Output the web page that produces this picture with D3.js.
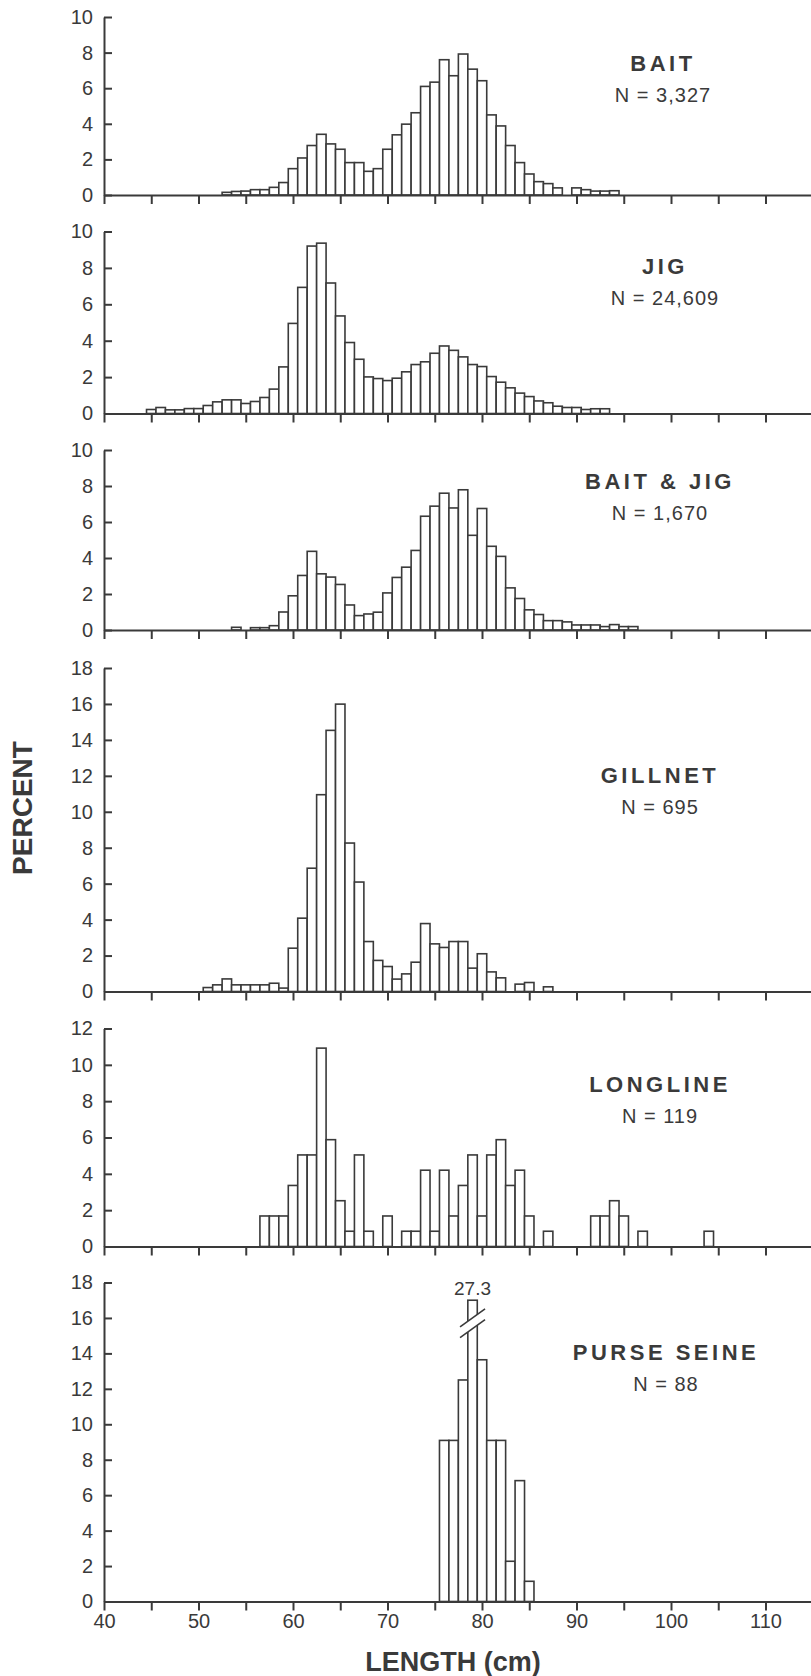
<!DOCTYPE html>
<html><head><meta charset="utf-8">
<script src="https://cdn.jsdelivr.net/npm/d3@7"></script>
<style>
html,body{margin:0;padding:0;background:#fff;}
svg{display:block;}
</style></head><body>
<svg id="chart" width="811" height="1676"></svg>
<script>
// ---------------- DATA ----------------
const gearNames = ["BAIT", "JIG", "BAIT & JIG", "GILLNET", "LONGLINE", "PURSE SEINE"];
const sampleLabels = ["N = 3,327", "N = 24,609", "N = 1,670", "N = 695", "N = 119", "N = 88"];

// percent frequency by 1-cm length class; first value belongs to the start length
const baitStart = 53;
const baitPct = [0.15, 0.2, 0.22, 0.3, 0.3, 0.43, 0.7, 1.48, 2.08, 2.78, 3.41, 2.87, 2.57, 1.82, 1.82, 1.33, 1.48,
  2.57, 3.38, 3.98, 4.62, 6.1, 6.34, 7.6, 6.7, 7.92, 7.07, 6.42, 4.5, 3.88, 2.78, 1.82, 1.18, 0.75, 0.64, 0.4, 0,
  0.4, 0.3, 0.22, 0.22, 0.24];

const jigStart = 45;
const jigPct = [0.22, 0.33, 0.2, 0.2, 0.27, 0.27, 0.44, 0.64, 0.75, 0.75, 0.55, 0.66, 0.88, 1.34, 2.56, 4.95, 6.93,
  9.2, 9.36, 7.17, 5.36, 3.9, 2.98, 2.01, 1.92, 1.81, 1.94, 2.29, 2.69, 2.84, 3.31, 3.71, 3.47, 3.11, 2.69, 2.58,
  2.03, 1.72, 1.41, 1.12, 0.93, 0.69, 0.59, 0.4, 0.33, 0.33, 0.22, 0.26, 0.26];

const baitJigStart = 54;
const baitJigPct = [0.15, 0, 0.13, 0.13, 0.24, 1.0, 1.9, 3.03, 4.37, 3.12, 2.94, 2.53, 1.39, 0.8, 0.89, 0.99, 2.06,
  2.92, 3.49, 4.42, 6.32, 6.88, 7.6, 6.78, 7.79, 5.26, 6.75, 4.65, 4.09, 2.34, 1.75, 1.12, 0.86, 0.52, 0.52, 0.45,
  0.28, 0.28, 0.28, 0.19, 0.3, 0.19, 0.19];

const gillnetStart = 51;
const gillnetPct = [0.22, 0.37, 0.7, 0.37, 0.37, 0.37, 0.37, 0.46, 0.19, 2.41, 4.08, 6.86, 10.95, 14.53, 15.99, 8.26,
  6.09, 2.78, 1.73, 1.39, 0.69, 0.98, 1.63, 3.78, 2.65, 2.45, 2.78, 2.78, 1.3, 2.1, 1.09, 0.76, 0, 0.41, 0.5, 0, 0.26];

const longlineStart = 57;
const longlinePct = [1.68, 1.68, 1.68, 3.36, 5.04, 5.04, 10.92, 5.88, 2.52, 0.84, 5.04, 0.84, 0, 1.68, 0, 0.84, 0.84,
  4.2, 0.84, 4.2, 1.68, 3.36, 5.04, 1.68, 5.04, 5.88, 3.36, 4.2, 1.68, 0, 0.84, 0, 0, 0, 0, 1.68, 1.68, 2.52, 1.68,
  0, 0.84, 0, 0, 0, 0, 0, 0, 0.84];

const purseStart = 76;
const pursePct = [9.09, 9.09, 12.5, 27.3, 13.64, 9.09, 9.09, 2.27, 6.82, 1.14];
const purseBreakLabel = "27.3";
const purseAxisCap = 17;   // bar drawn broken at this value

const yMaxes = [10, 10, 10, 18, 12, 18];
const yTicksTen = [0, 2, 4, 6, 8, 10];
const yTicksEighteen = [0, 2, 4, 6, 8, 10, 12, 14, 16, 18];
const yTicksTwelve = [0, 2, 4, 6, 8, 10, 12];
const xTickValues = [40, 45, 50, 55, 60, 65, 70, 75, 80, 85, 90, 95, 100, 105, 110, 115];
const xTickLabels = [40, 50, 60, 70, 80, 90, 100, 110];
const xTitle = "LENGTH (cm)";
const yTitle = "PERCENT";

const seriesStarts = [baitStart, jigStart, baitJigStart, gillnetStart, longlineStart, purseStart];
const seriesValues = [baitPct, jigPct, baitJigPct, gillnetPct, longlinePct, pursePct];
const seriesTicks = [yTicksTen, yTicksTen, yTicksTen, yTicksEighteen, yTicksTwelve, yTicksEighteen];

// ---------------- LAYOUT ----------------
const W = 811, H = 1676;
const INK = "#3a3a3a";
const FONT = "'Liberation Sans', Arial, Helvetica, sans-serif";
const panelBox = [
  {top: 17, zero: 195},
  {top: 231.5, zero: 413.5},
  {top: 450, zero: 630},
  {top: 668, zero: 991.5},
  {top: 1028.5, zero: 1246.5},
  {top: 1282.5, zero: 1601.5}
];
const titlePos = [
  {x: 663, y: 62.5}, {x: 665, y: 265.5}, {x: 660, y: 481},
  {x: 660, y: 775}, {x: 660, y: 1083.5}, {x: 666, y: 1352}
];

const svg = d3.select("#chart");
svg.append("rect").attr("width", W).attr("height", H).attr("fill", "#fff");

const x = d3.scaleLinear().domain([40, 115]).range([104, 104 + 75 * 9.45]);

gearNames.forEach((name, i) => {
  const box = panelBox[i];
  const y = d3.scaleLinear().domain([0, yMaxes[i]]).range([box.zero, box.top]);
  const g = svg.append("g");
  const start = seriesStarts[i];
  const isPurse = i === 5;
  const cap = v => (isPurse ? Math.min(v, purseAxisCap) : v);
  const data = seriesValues[i].map((v, k) => ({len: start + k, v})).filter(d => d.v > 0);

  // bars
  g.append("g").selectAll("rect").data(data).join("rect")
    .attr("x", d => x(d.len - 0.5))
    .attr("width", d => x(d.len + 0.5) - x(d.len - 0.5))
    .attr("y", d => y(cap(d.v)))
    .attr("height", d => box.zero - y(cap(d.v)))
    .attr("fill", "#fff")
    .attr("stroke", INK)
    .attr("stroke-width", 1.6);

  // broken bar for purse seine
  if (isPurse) {
    const big = data.find(d => d.v > purseAxisCap);
    const x0 = x(big.len - 0.5), x1 = x(big.len + 0.5), xc = (x0 + x1) / 2;
    const yA = y(16.0), yB = y(15.4);
    const halfRun = 12.5, halfRise = 9;
    const lineY = (yc, xx) => yc - (xx - xc) * (halfRise / halfRun);
    g.append("polygon")
      .attr("points", [
        [x0 - 1.5, lineY(yA, x0 - 1.5)], [x1 + 1.5, lineY(yA, x1 + 1.5)],
        [x1 + 1.5, lineY(yB, x1 + 1.5)], [x0 - 1.5, lineY(yB, x0 - 1.5)]
      ].map(p => p.join(",")).join(" "))
      .attr("fill", "#fff");
    [yA, yB].forEach(yc => {
      g.append("line")
        .attr("x1", xc - halfRun).attr("y1", yc + halfRise)
        .attr("x2", xc + halfRun).attr("y2", yc - halfRise)
        .attr("stroke", INK).attr("stroke-width", 1.6);
    });
    g.append("text")
      .attr("x", xc).attr("y", y(purseAxisCap) - 5)
      .attr("text-anchor", "middle")
      .attr("font-family", FONT).attr("font-size", 19).attr("fill", INK)
      .text(purseBreakLabel);
  }

  // y axis (ticks pointing inward)
  const yAxis = d3.axisLeft(y).tickValues(seriesTicks[i])
    .tickSizeInner(-8).tickSizeOuter(0).tickPadding(11);
  const ya = g.append("g").attr("transform", `translate(${x(40)},0)`).call(yAxis);

  // x axis (ticks pointing down)
  const last = i === gearNames.length - 1;
  const xAxis = d3.axisBottom(x).tickValues(xTickValues).tickSize(9).tickSizeOuter(0).tickPadding(3)
    .tickFormat(d => (last && xTickLabels.includes(d)) ? d : "");
  const xa = g.append("g").attr("transform", `translate(0,${box.zero})`).call(xAxis);

  [ya, xa].forEach(a => {
    a.select(".domain").attr("stroke", INK).attr("stroke-width", 2);
    a.selectAll(".tick line").attr("stroke", INK).attr("stroke-width", 2);
    a.selectAll(".tick text").attr("font-family", FONT).attr("font-size", 20).attr("fill", INK);
  });

  // panel title and sample size
  const tp = titlePos[i];
  g.append("text").attr("x", tp.x).attr("y", tp.y + 8)
    .attr("text-anchor", "middle").attr("font-family", FONT).attr("font-weight", "bold")
    .attr("font-size", 22).attr("letter-spacing", 3.5).attr("fill", INK)
    .text(name);
  g.append("text").attr("x", tp.x).attr("y", tp.y + 32 + 7)
    .attr("text-anchor", "middle").attr("font-family", FONT)
    .attr("font-size", 20).attr("letter-spacing", 1).attr("fill", INK)
    .text(sampleLabels[i]);
});

// axis titles
svg.append("text")
  .attr("transform", `translate(32,808) rotate(-90)`)
  .attr("text-anchor", "middle").attr("font-family", FONT).attr("font-weight", "bold")
  .attr("font-size", 28).attr("fill", INK).text(yTitle);
svg.append("text")
  .attr("x", 453).attr("y", 1671)
  .attr("text-anchor", "middle").attr("font-family", FONT).attr("font-weight", "bold")
  .attr("font-size", 27).attr("fill", INK).text(xTitle);
</script>
</body></html>
